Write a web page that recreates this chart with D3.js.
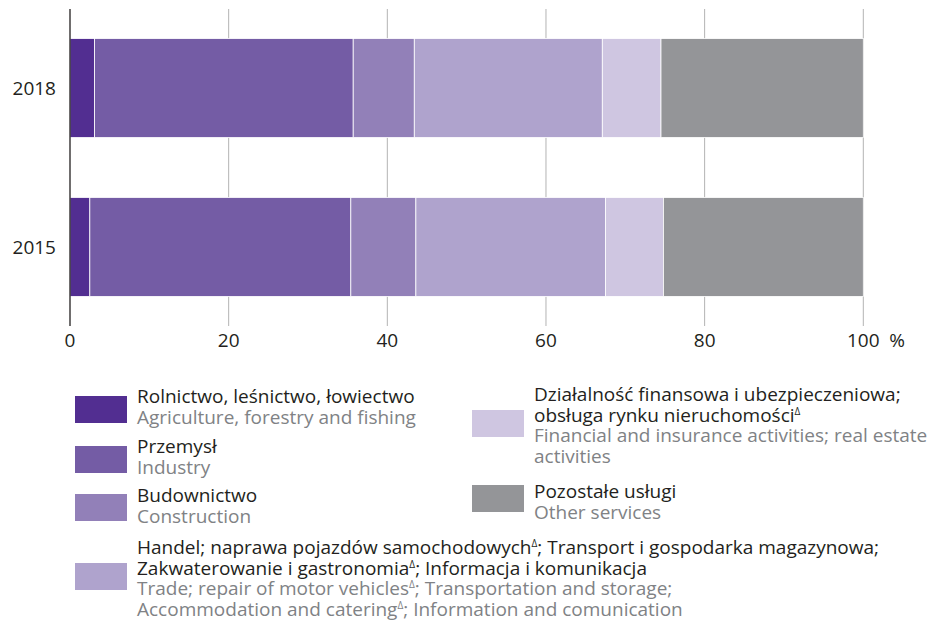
<!DOCTYPE html>
<html>
<head>
<meta charset="utf-8">
<script src="https://cdn.jsdelivr.net/npm/d3@7"></script>
<style>
  body { margin: 0; background: #fff; }
  svg text { font-family: "Open Sans", "Noto Sans", sans-serif; }
</style>
</head>
<body>
<div id="app"></div>
<script>
const years = ["2018", "2015"];
const sectors = ["agri", "industry", "construction", "trade", "finance", "other"];
const values2018 = [3.1, 32.6, 7.7, 23.7, 7.4, 25.5];
const values2015 = [2.5, 32.9, 8.2, 23.9, 7.3, 25.2];
const colors = ["#522e91", "#745ca5", "#9280b8", "#afa3cd", "#cfc6e1", "#949598"];
const ticks = [0, 20, 40, 60, 80, 100];

// legend: polish lines / english lines, ^ marks a superscript delta
const legendPl = [
  ["Rolnictwo, leśnictwo, łowiectwo"],
  ["Przemysł"],
  ["Budownictwo"],
  ["Handel; naprawa pojazdów samochodowych^; Transport i gospodarka magazynowa;", "Zakwaterowanie i gastronomia^; Informacja i komunikacja"],
  ["Działalność finansowa i ubezpieczeniowa;", "obsługa rynku nieruchomości^"],
  ["Pozostałe usługi"]
];
const legendEn = [
  ["Agriculture, forestry and fishing"],
  ["Industry"],
  ["Construction"],
  ["Trade; repair of motor vehicles^; Transportation and storage;", "Accommodation and catering^; Information and comunication"],
  ["Financial and insurance activities; real estate", "activities"],
  ["Other services"]
];

const W = 930, H = 622;
const fs = 19;
const svg = d3.select("#app").append("svg")
  .attr("width", W)
  .attr("height", H)

const x = d3.scaleLinear().domain([0, 100]).range([70, 863.3]);
const y = d3.scaleBand().domain(years).range([9, 326]).paddingInner(0.377).paddingOuter(0.186);

// gridlines
svg.append("g")
  .selectAll("line")
  .data(ticks.slice(1))
  .enter().append("line")
  .attr("x1", d => x(d)).attr("x2", d => x(d))
  .attr("y1", 9).attr("y2", 326)
  .attr("stroke", "#b3b3b3")
  .attr("stroke-width", 1)

const rows = years.map((yr, i) => {
  const vals = i == 0 ? values2018 : values2015;
  let acc = 0;
  return vals.map((v, j) => {
    const seg = { year: yr, key: sectors[j], x0: acc, x1: acc + v, color: colors[j] };
    acc += v;
    return seg;
  });
});

svg.append("g")
  .selectAll("rect")
  .data(rows.flat())
  .enter().append("rect")
  .attr("x", d => x(d.x0))
  .attr("y", d => y(d.year))
  .attr("width", d => x(d.x1) - x(d.x0))
  .attr("height", y.bandwidth())
  .attr("fill", d => d.color)
  .attr("stroke", "#fff")
  .attr("stroke-width", 0.8)

// zero axis line
svg.append("line")
  .attr("x1", x(0)).attr("x2", x(0))
  .attr("y1", 9).attr("y2", 326)
  .attr("stroke", "#231f20")
  .attr("stroke-width", 1.3)

// x tick labels
svg.append("g")
  .selectAll("text")
  .data(ticks)
  .enter().append("text")
  .attr("x", d => x(d))
  .attr("y", 347)
  .attr("text-anchor", "middle")
  .attr("font-size", fs)
  .attr("fill", "#231f20")
  .text(d => d)

svg.append("text")
  .attr("x", x(100) + 26).attr("y", 347)
  .attr("text-anchor", "start")
  .attr("font-size", fs)
  .attr("fill", "#231f20")
  .text("%")

// year labels
svg.append("g")
  .selectAll("text")
  .data(years)
  .enter().append("text")
  .attr("x", 56)
  .attr("y", d => y(d) + y.bandwidth() / 2 + 7)
  .attr("text-anchor", "end")
  .attr("font-size", fs)
  .attr("fill", "#231f20")
  .text(d => d)

// legend
const legPos = [
  { sx: 75, sy: 396, tx: 137, ty: 403 },
  { sx: 75, sy: 446, tx: 137, ty: 453 },
  { sx: 75, sy: 494, tx: 137, ty: 502 },
  { sx: 75, sy: 563, tx: 137, ty: 554 },
  { sx: 472, sy: 410, tx: 534, ty: 401 },
  { sx: 472, sy: 485, tx: 534, ty: 498 }
];
const lineH = 20.5;

function addLine(g, str, xx, yy, col) {
  const t = g.append("text").attr("x", xx).attr("y", yy).attr("font-size", fs).attr("fill", col);
  const parts = str.split("^");
  parts.forEach((part, k) => {
    const sp = t.append("tspan").text(part);
    if (k > 0) sp.attr("dy", 7);
    if (k < parts.length - 1) {
      t.append("tspan").attr("font-size", 10).attr("dy", -7).text("Δ");
    }
  });
}

sectors.forEach((s, i) => {
  const p = legPos[i];
  const g = svg.append("g").attr("class", "legend-item");
  g.append("rect")
    .attr("x", p.sx).attr("y", p.sy)
    .attr("width", 52).attr("height", 27)
    .attr("fill", colors[i])
  let ly = p.ty;
  legendPl[i].forEach(l => { addLine(g, l, p.tx, ly, "#231f20"); ly += lineH; });
  legendEn[i].forEach(l => { addLine(g, l, p.tx, ly, "#808285"); ly += lineH; });
});
</script>
</body>
</html>
